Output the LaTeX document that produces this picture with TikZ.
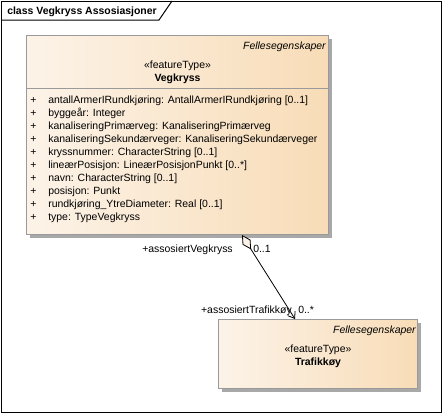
\documentclass[tikz,border=0pt]{standalone}
\usepackage{fontspec}
\setmainfont{Liberation Sans}
\usetikzlibrary{arrows.meta,calc,shadows}
\definecolor{cremeL}{HTML}{FCF3E8}
\definecolor{cremeR}{HTML}{F8DCB7}
\definecolor{boxborder}{HTML}{9A9A9A}
\definecolor{shadowgray}{HTML}{A8A8A8}
\begin{document}
\begin{tikzpicture}[x=0.75pt,y=-0.75pt,
  txt/.style={inner sep=0pt,font=\fontsize{7.85pt}{9.75pt}\selectfont},
  classbox/.style={draw=boxborder,line width=0.75pt,rectangle,inner sep=0pt,anchor=north west,
    left color=cremeL,right color=cremeR,
    general shadow={fill=shadowgray,shadow xshift=2.25pt,shadow yshift=-2.25pt}},
  assoc/.style={line width=0.6pt,{Diamond[open,fill=cremeL,length=12.75pt,width=7pt]}-{Straight Barb[length=4.5pt,width=6.5pt]}}
]
\useasboundingbox (0,0) rectangle (443,414);
% frame
\draw[line width=0.75pt] (1,1) rectangle (441.5,412.5);
\draw[line width=0.75pt] (1,20) -- (159,20) -- (172,1);
\node[txt,anchor=base west,font=\fontsize{7.85pt}{9.75pt}\selectfont\bfseries] (title) at (7,15) {class Vegkryss Assosiasjoner};
% Vegkryss
\node[classbox,minimum width=226.5pt,minimum height=149.25pt] (vk) at (26,35) {};
\draw[boxborder,line width=0.75pt] (vk.west |- 0,88) -- (vk.east |- 0,88);
\node[txt,anchor=base east,font=\fontsize{7.85pt}{9.75pt}\selectfont\itshape] (vkfe) at ($(vk.north east)+(-3,14)$) {Fellesegenskaper};
\node[txt,anchor=base] (vkst) at ($(vk.north)+(0,33)$) {«featureType»};
\node[txt,anchor=base,font=\fontsize{7.85pt}{9.75pt}\selectfont\bfseries] (vkname) at ($(vk.north)+(0,46)$) {Vegkryss};
\foreach \t [count=\i from 0] in {
  {antallArmerIRundkjøring: AntallArmerIRundkjøring [0..1]},
  {byggeår: Integer},
  {kanaliseringPrimærveg: KanaliseringPrimærveg},
  {kanaliseringSekundærveger: KanaliseringSekundærveger},
  {kryssnummer: CharacterString [0..1]},
  {lineærPosisjon: LineærPosisjonPunkt [0..*]},
  {navn: CharacterString [0..1]},
  {posisjon: Punkt},
  {rundkjøring\_YtreDiameter: Real [0..1]},
  {type: TypeVegkryss}}{
  \node[txt,anchor=base west] (plus\i) at (30,103+13*\i) {+};
  \node[txt,anchor=base west] (attr\i) at (48,103+13*\i) {\t};
}
% Trafikkoy
\node[classbox,minimum width=149.25pt,minimum height=51.75pt] (tr) at (218,319) {};
\node[txt,anchor=base east,font=\fontsize{7.85pt}{9.75pt}\selectfont\itshape] (trfe) at ($(tr.north east)+(-2,14)$) {Fellesegenskaper};
\node[txt,anchor=base] (trst) at ($(tr.north)+(0,33)$) {«featureType»};
\node[txt,anchor=base,font=\fontsize{7.85pt}{9.75pt}\selectfont\bfseries] (trname) at ($(tr.north)+(0,46)$) {Trafikkøy};
% association
\coordinate (s) at ($(vk.south west)+(216,0)$);
\coordinate (t) at ($(tr.north west)+(77,0)$);
\draw[assoc] (s) -- (t);
\node[txt,anchor=base east] (rolevk) at (233,252) {+assosiertVegkryss};
\node[txt,anchor=base west] (multvk) at (253,252) {0..1};
\node[txt,anchor=base east] (roletr) at (292,313) {+assosiertTrafikkøy};
\node[txt,anchor=base west] (multtr) at (298,313) {0..*};
\end{tikzpicture}
\end{document}
